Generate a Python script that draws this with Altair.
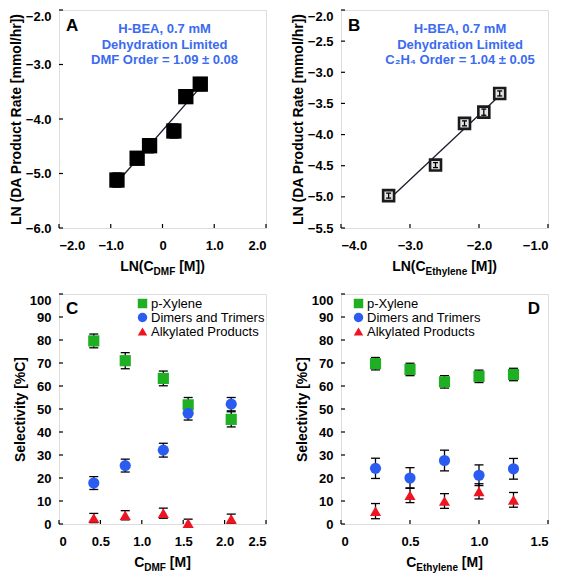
import altair as alt
import pandas as pd

FONT = "Liberation Sans"
ANNOT_BLUE = "#3A6BF0"

# ---------------- data ----------------
# Panel A: LN(C_DMF) vs LN(rate)
a_x = [-0.88, -0.49, -0.25, 0.22, 0.45, 0.73]
a_y = [-5.12, -4.72, -4.49, -4.22, -3.59, -3.36]
a_err = [0.13, 0.12, 0.13, 0.13, 0.12, 0.12]

# Panel B: LN(C_Ethylene) vs LN(rate)
b_x = [-3.31, -2.63, -2.21, -1.93, -1.70]
b_y = [-4.98, -4.49, -3.82, -3.64, -3.34]
b_err = [0.04, 0.04, 0.04, 0.05, 0.04]

# Panel C: selectivity vs C_DMF
c_x = [0.42, 0.80, 1.26, 1.56, 2.08]
c_pxylene = [79.6, 71.0, 63.3, 51.8, 45.5]
c_pxylene_err = [3.0, 3.5, 3.2, 3.2, 3.3]
c_dimers = [17.8, 25.4, 32.1, 48.1, 52.1]
c_dimers_err = [2.8, 2.8, 3.0, 2.9, 2.9]
c_alkyl = [2.6, 3.8, 4.7, 0.4, 2.2]
c_alkyl_err = [2.0, 2.0, 2.2, 1.7, 2.1]

# Panel D: selectivity vs C_Ethylene
d_x = [0.25, 0.50, 0.75, 1.00, 1.25]
d_pxylene = [69.7, 67.2, 61.8, 64.2, 65.0]
d_pxylene_err = [2.7, 2.7, 2.7, 2.7, 2.7]
d_dimers = [24.2, 20.0, 27.6, 21.2, 24.0]
d_dimers_err = [4.4, 4.5, 4.5, 4.5, 4.5]
d_alkyl = [5.6, 12.5, 10.0, 14.2, 10.5]
d_alkyl_err = [3.3, 3.2, 3.2, 3.3, 3.2]

series_names = ["p-Xylene", "Dimers and Trimers", "Alkylated Products"]
series_colors = ["#1FAF22", "#2A5CF2", "#EE1522"]
series_shapes = ["square", "circle", "triangle-up"]

a_xticks = [-2.0, -1.0, 0.0, 1.0, 2.0]
a_yticks = [-6.0, -5.0, -4.0, -3.0, -2.0]
b_xticks = [-4.0, -3.0, -2.0, -1.0]
b_yticks = [-5.5, -5.0, -4.5, -4.0, -3.5, -3.0, -2.5, -2.0]
c_xticks = [0.0, 0.5, 1.0, 1.5, 2.0, 2.5]
d_xticks = [0.0, 0.5, 1.0, 1.5]
sel_yticks = [0, 10, 20, 30, 40, 50, 60, 70, 80, 90, 100]

annot_a = ["H-BEA, 0.7 mM", "Dehydration Limited", "DMF Order = 1.09 ± 0.08"]
annot_b = ["H-BEA, 0.7 mM", "Dehydration Limited", "C₂H₄ Order = 1.04 ± 0.05"]
y_title_rate = "LN (DA Product Rate [mmol/hr])"
y_title_sel = "Selectivity [%C]"

# ---------------- layout ----------------
W = 207
H_TOP = 218
H_BOT = 230

ONE = alt.Data(values=[{"k": 1}])

# Arial/Liberation Sans Bold advance widths (em)
BW = {'L': .611, 'N': .722, '(': .333, ')': .333, 'C': .722, ' ': .278, '[': .333,
      ']': .333, 'M': .833, 'D': .722, 'F': .611, 'E': .667, 't': .333, 'h': .611,
      'y': .556, 'l': .278, 'e': .556, 'n': .611}


def tw(s, size):
    return sum(BW.get(ch, .556) for ch in s) * size


def x_title(parts, width, ybase):
    # parts: (text, fontsize, dy, leading gap in px)
    total = sum(tw(t, sz) + gap for t, sz, _, gap in parts)
    x0 = width / 2 - total / 2
    layers = []
    for t, sz, dy, gap in parts:
        x0 += gap
        layers.append(
            alt.Chart(ONE).mark_text(text=t, font=FONT, fontWeight="bold", fontSize=sz,
                                     align="left", baseline="alphabetic", dy=dy, color="black")
            .encode(x=alt.value(x0), y=alt.value(ybase))
        )
        x0 += tw(t, sz)
    return layers


def xaxis(ticks):
    return alt.Axis(values=ticks, title=None,
                    labelExpr="datum.value == 0 ? '0' : format(datum.value, '.1f')",
                    labelFont=FONT, labelFontWeight="bold", labelFontSize=13, labelColor="black",
                    labelPadding=11, ticks=False, tickSize=0, domain=False, grid=False,
                    labelOverlap=False)


def yaxis(ticks, title, top, fmt):
    return alt.Axis(values=ticks, title=title, format=fmt,
                    labelFont=FONT, labelFontWeight="bold", labelFontSize=13, labelColor="black",
                    labelPadding=8, ticks=False, tickSize=0, domain=False, grid=False,
                    labelOverlap=False,
                    labelBaseline={"condition": {"test": f"datum.value == {top}", "value": "top"},
                                   "value": "middle"},
                    titleFont=FONT, titleFontWeight="bold", titleFontSize=14, titleColor="black",
                    titlePadding=2)


class Panel:
    def __init__(self, xs, ys, xa, ya):
        self.xs, self.ys, self.xa, self.ya = xs, ys, xa, ya

    def X(self, f):
        return alt.X(f, scale=self.xs, axis=self.xa)

    def Y(self, f):
        return alt.Y(f, scale=self.ys, axis=self.ya)


def inward_ticks(p, xticks, yticks, h):
    tx = alt.Chart(pd.DataFrame({"x": xticks})).mark_rule(color="black", strokeWidth=1.2).encode(
        x=p.X("x:Q"), y=alt.value(h), y2=alt.value(h - 4))
    ty = alt.Chart(pd.DataFrame({"y": yticks})).mark_rule(color="black", strokeWidth=1.2).encode(
        y=p.Y("y:Q"), x=alt.value(0), x2=alt.value(4))
    return [tx, ty]


def errbars(p, df, cap):
    rule = alt.Chart(df).mark_rule(color="black", strokeWidth=1.3, clip=True).encode(
        x=p.X("x:Q"), y=p.Y("lo:Q"), y2="hi:Q")
    lo = alt.Chart(df).mark_tick(color="black", orient="horizontal", size=cap, thickness=1.3,
                                 opacity=1, clip=True).encode(x=p.X("x:Q"), y=p.Y("lo:Q"))
    hi = alt.Chart(df).mark_tick(color="black", orient="horizontal", size=cap, thickness=1.3,
                                 opacity=1, clip=True).encode(x=p.X("x:Q"), y=p.Y("hi:Q"))
    return [rule, lo, hi]


def letter(ch, x, y, align="left"):
    return alt.Chart(ONE).mark_text(text=ch, font=FONT, fontWeight="bold", fontSize=17,
                                    align=align, baseline="alphabetic", color="black").encode(
        x=alt.value(x), y=alt.value(y))


def annotation(lines, x, y):
    return alt.Chart(ONE).mark_text(text=lines, font=FONT, fontWeight="bold", fontSize=13,
                                    lineHeight=15.5, align="center", baseline="alphabetic",
                                    color=ANNOT_BLUE).encode(x=alt.value(x), y=alt.value(y))


def err_df(x, y, e):
    return pd.DataFrame({"x": x, "y": y,
                         "lo": [a - b for a, b in zip(y, e)],
                         "hi": [a + b for a, b in zip(y, e)]})


SP = 0.278 * 14  # width of a bold space at 14px

# ---------------- Panel A ----------------
dfa = err_df(a_x, a_y, a_err)
pa = Panel(alt.Scale(domain=[-2.0, 2.0], nice=False, zero=False),
           alt.Scale(domain=[-6.0, -2.0], nice=False, zero=False),
           xaxis(a_xticks), yaxis(a_yticks, y_title_rate, -2, ".1f"))
fit_a = alt.Chart(dfa).transform_regression("x", "y").mark_line(
    color="#1a1a30", strokeWidth=1.3).encode(x=pa.X("x:Q"), y=pa.Y("y:Q"))
pts_a = alt.Chart(dfa).mark_square(size=235, color="black", opacity=1).encode(
    x=pa.X("x:Q"), y=pa.Y("y:Q"))
panel_a = alt.layer(
    fit_a, *errbars(pa, dfa, 9), pts_a,
    *inward_ticks(pa, a_xticks, a_yticks, H_TOP),
    letter("A", 7, 21),
    annotation(annot_a, W * 0.51, 23),
    *x_title([("LN(C", 14, 0, 0), ("DMF", 10, 4, 0), ("[M])", 14, 0, SP)], W, H_TOP + 43),
).properties(width=W, height=H_TOP)

# ---------------- Panel B ----------------
dfb = err_df(b_x, b_y, b_err)
pb = Panel(alt.Scale(domain=[-4.0, -1.0], nice=False, zero=False),
           alt.Scale(domain=[-5.5, -2.0], nice=False, zero=False),
           xaxis(b_xticks), yaxis(b_yticks, y_title_rate, -2, ".1f"))
fit_b = alt.Chart(dfb).transform_regression("x", "y").mark_line(
    color="#1a1a30", strokeWidth=1.3).encode(x=pb.X("x:Q"), y=pb.Y("y:Q"))
pts_b = alt.Chart(dfb).mark_square(size=120, filled=True, fill="#e4e4e4", stroke="#1a1a1a",
                                   strokeWidth=2.6, opacity=1).encode(
    x=pb.X("x:Q"), y=pb.Y("y:Q"))
panel_b = alt.layer(
    fit_b, pts_b, *errbars(pb, dfb, 5),
    *inward_ticks(pb, b_xticks, b_yticks, H_TOP),
    letter("B", 7, 21),
    annotation(annot_b, W * 0.575, 23),
    *x_title([("LN(C", 14, 0, 0), ("Ethylene", 10, 4, 0), ("[M])", 14, 0, SP)], W, H_TOP + 43),
).properties(width=W, height=H_TOP)


# ---------------- Panels C, D ----------------
def sel_df(x, ys, es):
    frames = []
    for name, y, e in zip(series_names, ys, es):
        f = err_df(x, y, e)
        f["series"] = name
        frames.append(f)
    return pd.concat(frames, ignore_index=True)


def sel_panel(df, xticks, xmax, leg_x, letter_layer, title_parts):
    p = Panel(alt.Scale(domain=[0, xmax], nice=False, zero=False),
              alt.Scale(domain=[0, 100], nice=False, zero=False),
              xaxis(xticks), yaxis(sel_yticks, y_title_sel, 100, "d"))
    leg = alt.Legend(orient="none", legendX=leg_x, legendY=3, title=None, padding=0,
                     labelFont=FONT, labelFontSize=13, labelColor="black", labelOffset=2,
                     symbolSize=90, symbolStrokeWidth=0, symbolOpacity=1, rowPadding=0,
                     labelLimit=300)
    pts = alt.Chart(df).mark_point(filled=True, opacity=1, size=125).encode(
        x=p.X("x:Q"), y=p.Y("y:Q"),
        color=alt.Color("series:N", scale=alt.Scale(domain=series_names, range=series_colors),
                        legend=leg),
        shape=alt.Shape("series:N", scale=alt.Scale(domain=series_names, range=series_shapes),
                        legend=leg),
    )
    return alt.layer(
        *errbars(p, df, 9), pts,
        *inward_ticks(p, xticks, sel_yticks, H_BOT),
        letter_layer,
        *x_title(title_parts, W, H_BOT + 43),
    ).properties(width=W, height=H_BOT)


dfc = sel_df(c_x, [c_pxylene, c_dimers, c_alkyl], [c_pxylene_err, c_dimers_err, c_alkyl_err])
dfd = sel_df(d_x, [d_pxylene, d_dimers, d_alkyl], [d_pxylene_err, d_dimers_err, d_alkyl_err])

panel_c = sel_panel(dfc, c_xticks, 2.5, 77, letter("C", 7, 20),
                    [("C", 14, 0, 0), ("DMF", 10, 4, 0), ("[M]", 14, 0, SP)])
panel_d = sel_panel(dfd, d_xticks, 1.5, 11, letter("D", W - 8, 20, align="right"),
                    [("C", 14, 0, 0), ("Ethylene", 10, 4, 0), ("[M]", 14, 0, SP)])

chart = alt.concat(
    panel_a, panel_b, panel_c, panel_d,
    columns=2, spacing={"row": 14, "column": 22}, align="each", padding=0,
).resolve_legend(color="independent", shape="independent").configure_view(
    stroke="black", strokeWidth=1.5
).configure(background="white")

chart.save("out.html", embed_options={"renderer": "svg", "actions": False})
